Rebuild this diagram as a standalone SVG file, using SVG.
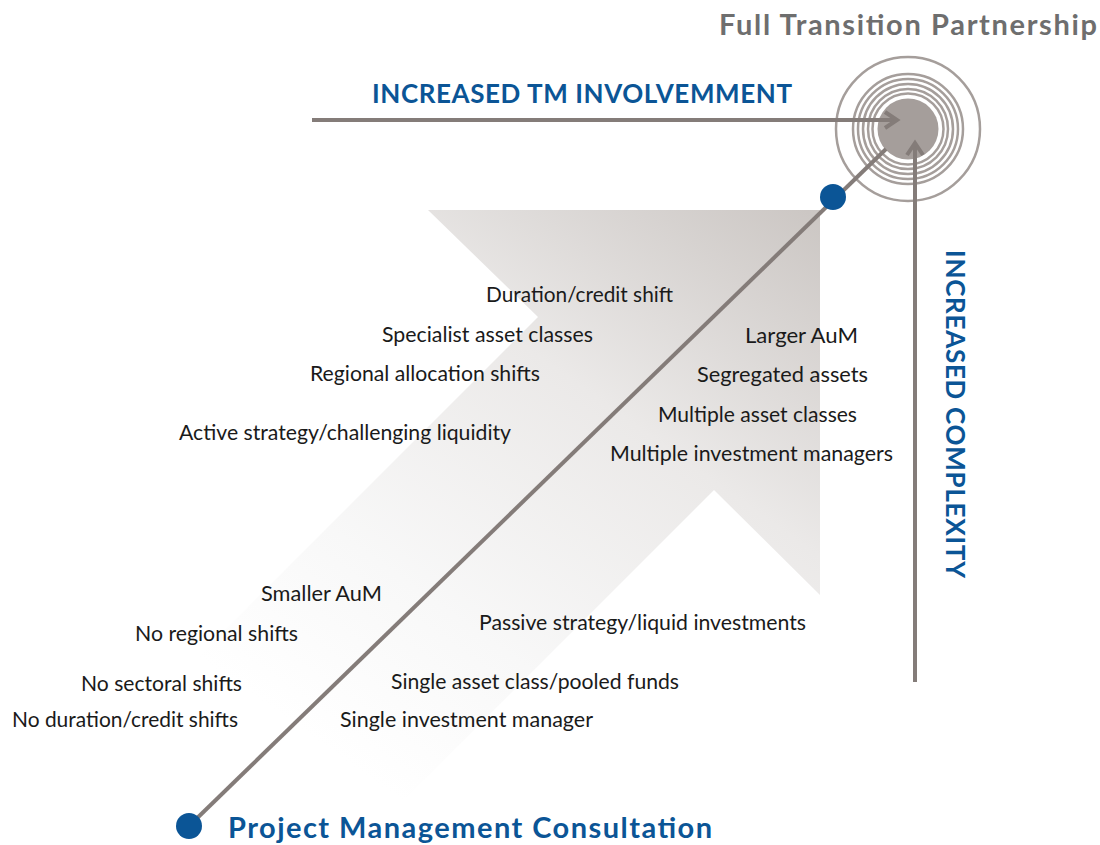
<svg xmlns="http://www.w3.org/2000/svg" width="1100" height="845" viewBox="0 0 1100 845">
<style>
.t{font-family:Lato,"Open Sans","Liberation Sans",sans-serif;font-size:21px;fill:#1a1a1a}
.h{font-family:Lato,"Open Sans","Liberation Sans",sans-serif;font-weight:bold;fill:#0b5596}
.g{font-family:Lato,"Open Sans","Liberation Sans",sans-serif;font-weight:bold;fill:#6e6e6e}
.ln{stroke:#847c79;stroke-width:4;fill:none}
.ring{fill:none;stroke:#a59e9b;stroke-width:2.5}
.dot{fill:#0b5596}
</style>
<defs>
<linearGradient id="fade" gradientUnits="userSpaceOnUse" x1="820" y1="210" x2="400" y2="800">
<stop offset="0" stop-color="#cbc6c3"/>
<stop offset="0.39" stop-color="#ebe9e8"/>
<stop offset="0.75" stop-color="#f8f8f8"/>
<stop offset="1" stop-color="#ffffff"/>
</linearGradient>
<marker id="chev" viewBox="0 0 20 20" refX="16" refY="10" markerWidth="5" markerHeight="5" orient="auto" markerUnits="strokeWidth">
<path d="M4,2 L16,10 L4,18" fill="none" stroke="#847c79" stroke-width="4"/>
</marker>
</defs>
<g id="big-arrow">
<path d="M428,210 L820,210 L820,595 L714,490 L254,950 L-95,950 L538,317 Z" fill="url(#fade)"/>
</g>
<g id="target">
<circle cx="908" cy="129" r="72" class="ring"/>
<circle cx="908" cy="129" r="55" class="ring"/>
<circle cx="908" cy="129" r="50" class="ring"/>
<circle cx="908" cy="129" r="45" class="ring"/>
<circle cx="908" cy="129" r="40" class="ring"/>
<circle cx="908" cy="129" r="35.5" class="ring"/>
<circle cx="908" cy="129" r="30.5" fill="#a59e9b"/>
</g>
<g id="connectors">
<line x1="312" y1="120" x2="897" y2="120" class="ln" marker-end="url(#chev)"/>
<line x1="915" y1="682" x2="915" y2="143" class="ln" marker-end="url(#chev)"/>
<line x1="189" y1="826" x2="886" y2="149" class="ln"/>
</g>
<g id="dot-top"><circle cx="833" cy="197" r="13" class="dot"/></g>
<g id="dot-bottom"><circle cx="189" cy="826" r="13" class="dot"/></g>
<g id="title-full"><text x="719" y="35" class="g" font-size="29" textLength="378">Full Transition Partnership</text></g>
<g id="label-tm"><text x="372" y="103" class="h" font-size="26" textLength="420">INCREASED TM INVOLVEMMENT</text></g>
<g id="label-complexity"><text transform="translate(946,250) rotate(90)" x="0" y="0" class="h" font-size="26" textLength="328">INCREASED COMPLEXITY</text></g>
<g id="title-pmc"><text x="228" y="838" class="h" font-size="29" textLength="484">Project Management Consultation</text></g>
<g id="labels-left-top">
<text x="486" y="302" class="t" textLength="187" lengthAdjust="spacingAndGlyphs">Duration/credit shift</text>
<text x="382" y="342" class="t" textLength="211" lengthAdjust="spacingAndGlyphs">Specialist asset classes</text>
<text x="310" y="381" class="t" textLength="230" lengthAdjust="spacingAndGlyphs">Regional allocation shifts</text>
<text x="179" y="440" class="t" textLength="332" lengthAdjust="spacingAndGlyphs">Active strategy/challenging liquidity</text>
</g>
<g id="labels-right-top">
<text x="745" y="343" class="t" textLength="113" lengthAdjust="spacingAndGlyphs">Larger AuM</text>
<text x="697" y="382" class="t" textLength="171" lengthAdjust="spacingAndGlyphs">Segregated assets</text>
<text x="658" y="422" class="t" textLength="199" lengthAdjust="spacingAndGlyphs">Multiple asset classes</text>
<text x="610" y="461" class="t" textLength="283" lengthAdjust="spacingAndGlyphs">Multiple investment managers</text>
</g>
<g id="labels-left-bottom">
<text x="261" y="601" class="t" textLength="121" lengthAdjust="spacingAndGlyphs">Smaller AuM</text>
<text x="135" y="641" class="t" textLength="163" lengthAdjust="spacingAndGlyphs">No regional shifts</text>
<text x="81" y="691" class="t" textLength="161" lengthAdjust="spacingAndGlyphs">No sectoral shifts</text>
<text x="12" y="727" class="t" textLength="226" lengthAdjust="spacingAndGlyphs">No duration/credit shifts</text>
</g>
<g id="labels-right-bottom">
<text x="479" y="630" class="t" textLength="327" lengthAdjust="spacingAndGlyphs">Passive strategy/liquid investments</text>
<text x="391" y="689" class="t" textLength="288" lengthAdjust="spacingAndGlyphs">Single asset class/pooled funds</text>
<text x="340" y="727" class="t" textLength="253" lengthAdjust="spacingAndGlyphs">Single investment manager</text>
</g>
</svg>
